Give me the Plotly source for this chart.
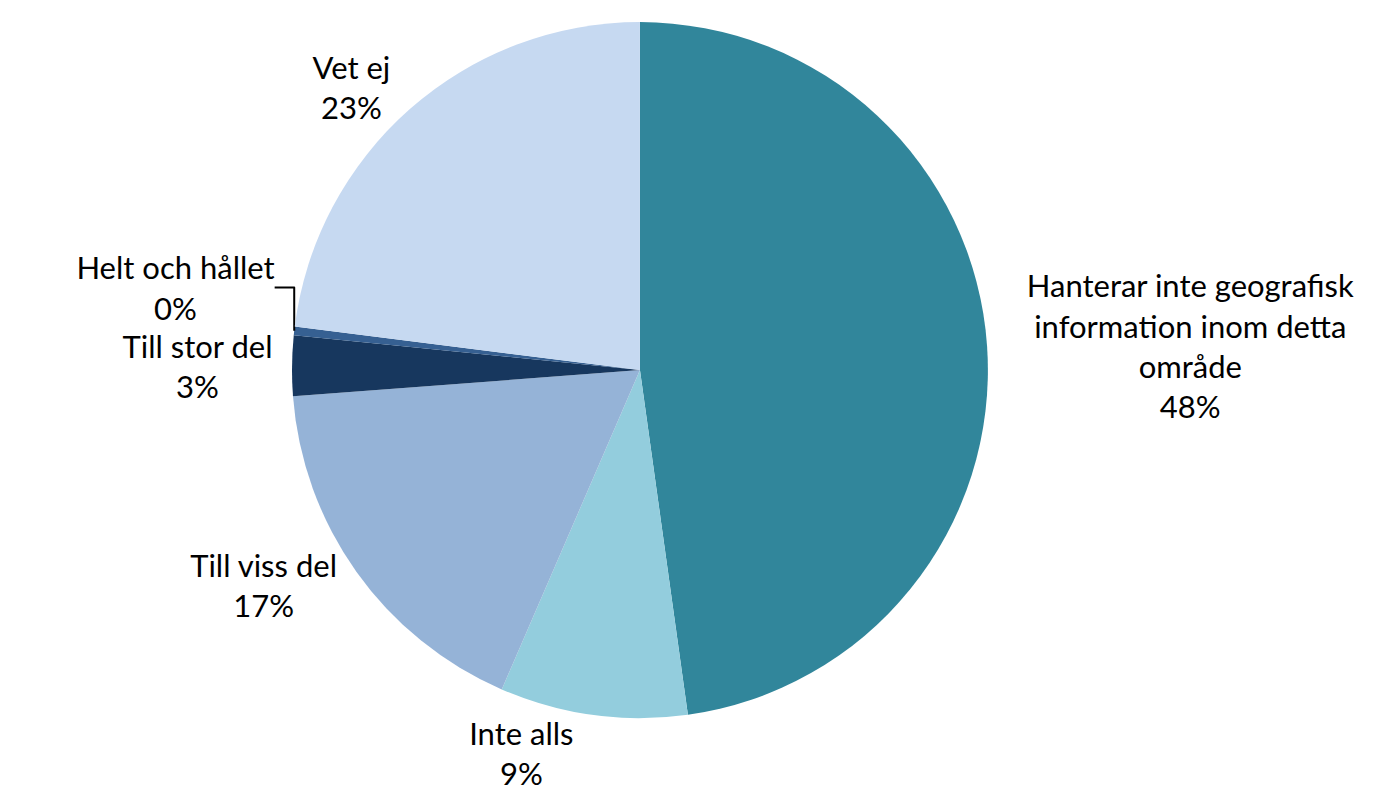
import plotly.graph_objects as go

labels = ["Hanterar inte geografisk<br>information inom detta<br>område",
          "Inte alls", "Till viss del", "Till stor del",
          "Helt och hållet", "Vet ej"]
values = [47.8, 8.7, 17.3, 2.8, 0.4, 23.0]
colors = ["#31869B", "#93CDDD", "#95B3D7", "#17375E", "#366092", "#C6D9F1"]

fig = go.Figure(
    go.Pie(
        labels=labels,
        values=values,
        sort=False,
        direction="clockwise",
        rotation=0,
        marker=dict(colors=colors, line=dict(width=0)),
        textposition="outside",
        texttemplate="%{label}<br>%{percent:.0%}",
        textfont=dict(family="Lato, Liberation Sans, sans-serif", size=31, color="black"),
        showlegend=False,
        hoverinfo="label+percent",
        domain=dict(x=[0.2049, 0.7070], y=[0.1001, 0.9821]),
    )
)
fig.update_layout(
    width=1386,
    height=789,
    margin=dict(l=0, r=0, t=0, b=0),
    paper_bgcolor="white",
)
fig.write_html("out.html")
